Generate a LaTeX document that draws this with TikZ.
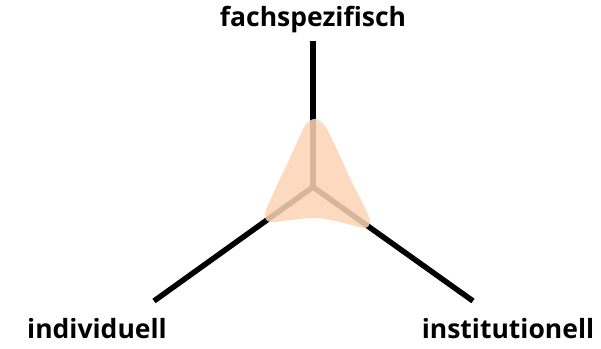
\documentclass[tikz,border=0pt]{standalone}
\usepackage{fontspec}
\setmainfont{Open Sans}
\begin{document}
\begin{tikzpicture}[x=1pt,y=-1pt,
  axis/.style={line width=5.5pt,black},
  lbl/.style={font=\bfseries\fontsize{26.5}{30}\selectfont,inner sep=0pt,anchor=center},
  blob/.style={fill={rgb,255:red,252;green,212;blue,181},fill opacity=0.86,draw=none}]
\useasboundingbox (0,0) rectangle (601,348);
\coordinate (c) at (313,187);
\coordinate (t) at (313,41);
\coordinate (l) at (154,301);
\coordinate (r) at (473,301);
\draw[axis] (c) -- (t);
\draw[axis] (c) -- (l);
\draw[axis] (c) -- (r);
\fill[blob] plot[smooth cycle, tension=0.55] coordinates {(315,119) (325,126) (338,152) (352,182) (366,210) (370,222) (364,228) (340,222) (316,218) (290,220) (270,222) (265,214) (273,194) (288,162) (300,136) (306,124)};
\node[lbl] (ft) at (313,20) {fachspezifisch};
\node[lbl] (fi) at (97,329) {individuell};
\node[lbl] (fn) at (508,329) {institutionell};
\end{tikzpicture}
\end{document}
